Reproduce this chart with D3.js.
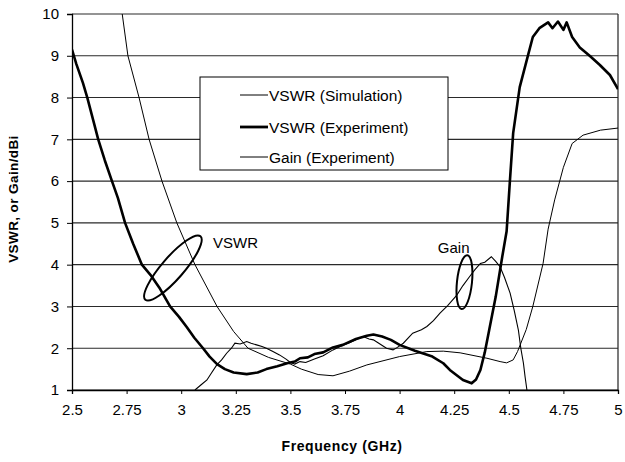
<!DOCTYPE html>
<html><head><meta charset="utf-8">
<script src="https://cdn.jsdelivr.net/npm/d3@7"></script>
<style>body{margin:0;background:#fff}svg{display:block}text{font-family:"Liberation Sans",Arial,sans-serif;fill:#000}</style>
</head><body><svg id="c" width="625" height="462"></svg>
<script>
const xTicks = [2.5, 2.75, 3, 3.25, 3.5, 3.75, 4, 4.25, 4.5, 4.75, 5];
const xTickLabels = ["2.5","2.75","3","3.25","3.5","3.75","4","4.25","4.5","4.75","5"];
const yTicks = [1,2,3,4,5,6,7,8,9,10];
const seriesNames = ["VSWR (Simulation)", "VSWR (Experiment)", "Gain (Experiment)"];
const vswrSim = [[2.73,10],[2.756,9],[2.807,8],[2.853,7],[2.912,6],[2.98,5],[3.063,4],[3.164,3],[3.24,2.4],[3.306,2],[3.4,1.78],[3.5,1.62],[3.55,1.5],[3.627,1.37],[3.695,1.34],[3.77,1.45],[3.85,1.6],[4.0,1.8],[4.125,1.92],[4.2,1.93],[4.277,1.89],[4.40,1.76],[4.46,1.68],[4.49,1.65],[4.52,1.72],[4.54,1.92],[4.58,2.45],[4.61,3.0],[4.657,4.03],[4.68,4.85],[4.71,5.55],[4.75,6.33],[4.79,6.9],[4.84,7.1],[4.92,7.22],[5.0,7.27]];
const vswrExp = [[2.5,9.15],[2.52,8.8],[2.55,8.35],[2.57,8.0],[2.6,7.4],[2.62,7.0],[2.65,6.5],[2.683,6.0],[2.71,5.6],[2.743,5.0],[2.78,4.5],[2.82,4.0],[2.86,3.75],[2.9,3.45],[2.949,3.0],[2.99,2.75],[3.026,2.5],[3.06,2.25],[3.1,2.0],[3.13,1.8],[3.164,1.62],[3.2,1.5],[3.24,1.42],[3.3,1.38],[3.35,1.42],[3.39,1.5],[3.44,1.57],[3.485,1.64],[3.52,1.68],[3.544,1.76],[3.58,1.78],[3.61,1.86],[3.65,1.9],[3.695,2.02],[3.74,2.08],[3.8,2.22],[3.85,2.3],[3.88,2.33],[3.92,2.28],[3.96,2.2],[4.0,2.08],[4.07,1.94],[4.15,1.8],[4.2,1.64],[4.23,1.48],[4.26,1.36],[4.29,1.24],[4.33,1.16],[4.35,1.25],[4.37,1.48],[4.39,1.9],[4.41,2.43],[4.44,3.23],[4.47,4.19],[4.49,4.8],[4.505,6.0],[4.52,7.15],[4.55,8.25],[4.59,9.05],[4.61,9.45],[4.64,9.66],[4.68,9.8],[4.70,9.66],[4.725,9.82],[4.75,9.62],[4.765,9.8],[4.79,9.45],[4.825,9.2],[4.87,9.0],[4.917,8.78],[4.963,8.54],[5.0,8.2]];
const gainExp = [[3.063,1.0],[3.09,1.12],[3.118,1.24],[3.14,1.42],[3.163,1.6],[3.185,1.72],[3.208,1.88],[3.23,2.0],[3.246,2.12],[3.27,2.1],[3.30,2.16],[3.32,2.12],[3.345,2.08],[3.37,2.04],[3.39,2.0],[3.42,1.92],[3.45,1.84],[3.48,1.74],[3.50,1.66],[3.52,1.62],[3.544,1.68],[3.57,1.66],[3.61,1.74],[3.65,1.82],[3.695,1.96],[3.73,2.05],[3.773,2.14],[3.80,2.2],[3.833,2.28],[3.86,2.22],[3.88,2.2],[3.91,2.1],[3.94,2.0],[3.97,1.96],[3.99,2.02],[4.017,2.12],[4.06,2.36],[4.1,2.44],[4.125,2.52],[4.155,2.66],[4.185,2.84],[4.22,3.02],[4.262,3.27],[4.29,3.5],[4.32,3.71],[4.345,3.88],[4.37,4.03],[4.39,4.06],[4.42,4.19],[4.44,4.08],[4.46,3.95],[4.48,3.7],[4.506,3.32],[4.525,2.9],[4.544,2.43],[4.555,2.0],[4.567,1.64],[4.575,1.3],[4.583,1.0]];
const ellipses = [{cx:2.962, cy:3.92, rx:42, ry:11, rot:-49, label:"VSWR", lx:3.146, ly:4.40},
                  {cx:4.297, cy:3.58, rx:27, ry:7.5, rot:-84, label:"Gain", lx:4.175, ly:4.28}];

const svg = d3.select("#c");
const x = d3.scaleLinear().domain([2.5,5]).range([72,618]);
const y = d3.scaleLinear().domain([1,10]).range([390,14]);

// grid
svg.append("g").selectAll("line").data(yTicks).join("line")
  .attr("x1",72).attr("x2",618).attr("y1",d=>y(d)).attr("y2",d=>y(d))
  .attr("stroke","#2a2a2a").attr("stroke-width",1.1);
// right border
svg.append("line").attr("x1",618).attr("x2",618).attr("y1",14).attr("y2",390).attr("stroke","#222").attr("stroke-width",1.2);

const xAxis = d3.axisBottom(x).tickValues(xTicks).tickFormat((d,i)=>xTickLabels[i]).tickSize(4).tickPadding(10);
const gx = svg.append("g").attr("transform","translate(0,390)").call(xAxis);
const yAxis = d3.axisLeft(y).tickValues(yTicks).tickSize(5).tickPadding(8).tickFormat(d3.format("d"));
const gy = svg.append("g").attr("transform","translate(72,0)").call(yAxis);
[gx,gy].forEach(g=>{
  g.select(".domain").attr("stroke","#000").attr("stroke-width",1.3);
  g.selectAll(".tick line").attr("stroke","#000");
  g.selectAll("text").attr("font-size",15).attr("font-family","Liberation Sans, Arial, sans-serif").attr("fill","#000");
});

svg.append("defs").append("clipPath").attr("id","clip").append("rect").attr("x",72).attr("y",14).attr("width",546).attr("height",376);
const line = d3.line().x(d=>x(d[0])).y(d=>y(d[1])).curve(d3.curveLinear);
const plot = svg.append("g").attr("clip-path","url(#clip)");
plot.append("path").datum(vswrSim).attr("d",line).attr("fill","none").attr("stroke","#000").attr("stroke-width",1);
plot.append("path").datum(gainExp).attr("d",line).attr("fill","none").attr("stroke","#000").attr("stroke-width",1.1);
plot.append("path").datum(vswrExp).attr("d",line).attr("fill","none").attr("stroke","#000").attr("stroke-width",2.6).attr("stroke-linejoin","round");

// ellipses
ellipses.forEach(e=>{
  svg.append("ellipse").attr("cx",x(e.cx)).attr("cy",y(e.cy)).attr("rx",e.rx).attr("ry",e.ry)
    .attr("transform",`rotate(${e.rot},${x(e.cx)},${y(e.cy)})`)
    .attr("fill","none").attr("stroke","#000").attr("stroke-width",2);
  svg.append("text").attr("x",x(e.lx)).attr("y",y(e.ly)).attr("font-size",15).text(e.label);
});

// legend
const lg = svg.append("g");
lg.append("rect").attr("x",200).attr("y",77).attr("width",248).attr("height",93).attr("fill","#fff").attr("stroke","#000").attr("stroke-width",1);
const widths=[1,2.8,1];
const rowsY=[95,127,157];
seriesNames.forEach((n,i)=>{
  lg.append("line").attr("x1",240).attr("x2",268).attr("y1",rowsY[i]).attr("y2",rowsY[i]).attr("stroke","#000").attr("stroke-width",widths[i]);
  lg.append("text").attr("x",269).attr("y",rowsY[i]+5.5).attr("font-size",15.5).text(n);
});

svg.append("text").attr("x",342).attr("y",451).attr("text-anchor","middle").attr("font-size",14).attr("font-weight","bold").attr("letter-spacing",0.6).text("Frequency (GHz)");
svg.append("text").attr("transform","translate(18,199) rotate(-90)").attr("text-anchor","middle").attr("font-size",13.5).attr("font-weight","bold").attr("letter-spacing",0.4).text("VSWR, or Gain/dBi");
</script></body></html>
